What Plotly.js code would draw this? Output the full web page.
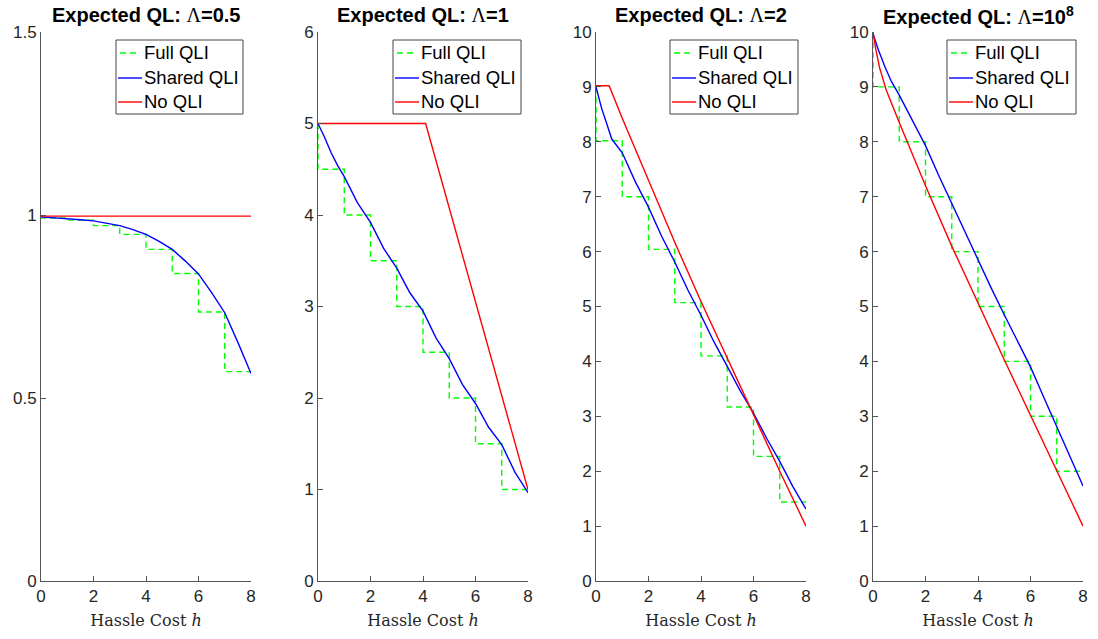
<!DOCTYPE html>
<html>
<head>
<meta charset="utf-8">
<script src="https://cdn.plot.ly/plotly-3.0.1.min.js"></script>
<style>html,body{margin:0;padding:0;background:#fff;}#chart{width:1098px;height:639px;}</style>
</head>
<body>
<div id="chart"></div>
<script>
// ---- Data ----
const panelTitles = ['Expected QL: <span style="font-family:\'Liberation Serif\';font-weight:normal">Λ</span>=0.5',
                     'Expected QL: <span style="font-family:\'Liberation Serif\';font-weight:normal">Λ</span>=1',
                     'Expected QL: <span style="font-family:\'Liberation Serif\';font-weight:normal">Λ</span>=2',
                     'Expected QL: <span style="font-family:\'Liberation Serif\';font-weight:normal">Λ</span>=10<sup>8</sup>'];
const seriesNames = ['Full QLI', 'Shared QLI', 'No QLI'];
const xTickVals = [0, 2, 4, 6, 8];
const yTicks1 = [0, 0.5, 1, 1.5];
const yTicks2 = [0, 1, 2, 3, 4, 5, 6];
const yTicks3 = [0, 1, 2, 3, 4, 5, 6, 7, 8, 9, 10];
const yTicks4 = [0, 1, 2, 3, 4, 5, 6, 7, 8, 9, 10];

// Full QLI: step function; value at h=0, then level on each interval [k, k+1]
const fullH = [0, 1, 2, 3, 4, 5, 6, 7, 8];
const full1 = [0.995, 0.992, 0.986, 0.971, 0.947, 0.906, 0.840, 0.735, 0.572];
const full2 = [5.0, 4.5, 4.0, 3.5, 3.0, 2.5, 2.0, 1.5, 1.0];
const full3 = [9.0, 8.02, 7.0, 6.04, 5.07, 4.1, 3.17, 2.27, 1.44];
const full4 = [10.0, 9.0, 8.0, 7.0, 6.0, 5.0, 4.0, 3.0, 2.0];

// Shared QLI
const sharedH1 = [0, 0.5, 1, 1.5, 2, 2.5, 3, 3.5, 4, 4.5, 5, 5.5, 6, 6.5, 7, 7.5, 8];
const shared1  = [0.995, 0.993, 0.990, 0.987, 0.984, 0.978, 0.971, 0.960, 0.947, 0.928, 0.906, 0.874, 0.839, 0.788, 0.733, 0.652, 0.567];
const sharedH2 = [0, 0.25, 0.5, 0.75, 1, 1.5, 2, 2.5, 3, 3.5, 4, 4.5, 5, 5.5, 6, 6.5, 7, 7.5, 8];
const shared2  = [5.0, 4.85, 4.68, 4.54, 4.42, 4.135, 3.92, 3.635, 3.42, 3.15, 2.95, 2.655, 2.43, 2.15, 1.94, 1.68, 1.49, 1.19, 0.965];
const sharedH3 = [0, 0.1, 0.22, 0.36, 0.6, 1, 1.5, 2, 2.5, 3, 3.5, 4, 4.5, 5, 5.5, 6, 6.5, 7, 7.5, 8];
const shared3  = [9.0, 8.8, 8.6, 8.4, 8.05, 7.8, 7.27, 6.81, 6.28, 5.81, 5.3, 4.84, 4.35, 3.91, 3.46, 3.06, 2.6, 2.18, 1.72, 1.31];
const sharedH4 = [0, 0.2, 0.45, 0.7, 1, 1.5, 2, 2.5, 3, 3.5, 4, 4.5, 5, 5.5, 6, 6.5, 7, 7.5, 8];
const shared4  = [9.97, 9.68, 9.37, 9.1, 8.85, 8.38, 7.93, 7.39, 6.87, 6.35, 5.86, 5.34, 4.85, 4.36, 3.9, 3.35, 2.82, 2.26, 1.73];

// No QLI
const noH1 = [0, 8];
const no1  = [0.997, 0.997];
const noH2 = [0, 4.1, 8];
const no2  = [5.0, 5.0, 1.0];
const noH3 = [0, 0.5, 1, 2, 3, 4, 5, 6, 7, 8];
const no3  = [9.02, 9.02, 8.43, 7.29, 6.17, 5.09, 4.05, 3.03, 2.0, 1.0];
const noH4 = [0, 0.1, 0.25, 0.5, 1, 2, 3, 4, 5, 6, 7, 8];
const no4  = [10.0, 9.7, 9.35, 8.95, 8.35, 7.2, 6.1, 5.05, 4.03, 3.02, 2.0, 1.0];

// ---- Styles ----
const W = 1098, H = 639;
const green = '#00ff00', blue = '#0000ff', red = '#ff0000';
const seriesColors = [green, blue, red];
const seriesDash = ['6px,4px', 'solid', 'solid'];
const legendSample = [[4, 20], [2, 26], [2, 26]];
const axisColor = '#555555', tickColor = '#262626';
const sans = 'Liberation Sans, Arial, sans-serif';
const serif = 'DejaVu Serif, Liberation Serif, serif';

const xPix = [[41, 251], [318, 528], [596, 806], [873, 1083]];
const yDom = [(H - 581) / H, (H - 32) / H];
const legendBox = [[116, 243], [393, 521], [670, 798], [947, 1076]];
const legendTop = 40, legendBottom = 114;
const legendRows = [53, 78, 102];

const panels = [
  {full: full1, sh: shared1, shH: sharedH1, no: no1, noH: noH1, yr: [0, 1.5], yt: yTicks1},
  {full: full2, sh: shared2, shH: sharedH2, no: no2, noH: noH2, yr: [0, 6], yt: yTicks2},
  {full: full3, sh: shared3, shH: sharedH3, no: no3, noH: noH3, yr: [0, 10], yt: yTicks3},
  {full: full4, sh: shared4, shH: sharedH4, no: no4, noH: noH4, yr: [0, 10], yt: yTicks4}
];

const px = v => v / W;
const py = v => (H - v) / H;

const traces = [];
const layout = {
  width: W, height: H, autosize: false,
  margin: {l: 0, r: 0, t: 0, b: 0, pad: 0},
  paper_bgcolor: '#ffffff', plot_bgcolor: '#ffffff',
  font: {family: sans, size: 17, color: tickColor},
  annotations: [], shapes: [],
  showlegend: false
};

panels.forEach((p, i) => {
  const n = i === 0 ? '' : String(i + 1);
  const xa = 'x' + n, ya = 'y' + n;
  traces.push({x: fullH, y: p.full, xaxis: xa, yaxis: ya, name: seriesNames[0],
    mode: 'lines', line: {color: green, width: 1.4, dash: seriesDash[0], shape: 'vh'}, hoverinfo: 'skip'});
  traces.push({x: p.shH, y: p.sh, xaxis: xa, yaxis: ya, name: seriesNames[1],
    mode: 'lines', line: {color: blue, width: 1.4}, hoverinfo: 'skip'});
  traces.push({x: p.noH, y: p.no, xaxis: xa, yaxis: ya, name: seriesNames[2],
    mode: 'lines', line: {color: red, width: 1.4}, hoverinfo: 'skip'});

  layout['xaxis' + n] = {
    domain: [px(xPix[i][0]), px(xPix[i][1])], anchor: ya, range: [0, 8],
    tickvals: xTickVals, ticks: 'inside', ticklen: 5, tickcolor: axisColor, tickwidth: 1,
    showline: true, linecolor: axisColor, linewidth: 1, showgrid: false, zeroline: false,
    tickfont: {family: sans, size: 17, color: tickColor},
    title: {text: 'Hassle Cost <i>h</i>', font: {family: serif, size: 16, color: tickColor}, standoff: 9},
    fixedrange: true
  };
  layout['yaxis' + n] = {
    domain: yDom, anchor: xa, range: p.yr,
    tickvals: p.yt, ticks: 'inside', ticklen: 5, tickcolor: axisColor, tickwidth: 1,
    showline: true, linecolor: axisColor, linewidth: 1, showgrid: false, zeroline: false,
    tickfont: {family: sans, size: 17, color: tickColor}, fixedrange: true
  };

  // title
  layout.annotations.push({
    text: '<b>' + panelTitles[i] + '</b>', xref: 'paper', yref: 'paper',
    x: px((xPix[i][0] + xPix[i][1]) / 2), y: py(15), xanchor: 'center', yanchor: 'middle',
    showarrow: false, font: {family: sans, size: 20, color: '#000000'}
  });

  // legend box (MATLAB style)
  const [bl, br] = legendBox[i];
  layout.shapes.push({type: 'rect', xref: 'paper', yref: 'paper', layer: 'above',
    x0: px(bl), x1: px(br), y0: py(legendBottom), y1: py(legendTop),
    line: {color: '#444444', width: 1}, fillcolor: '#ffffff'});
  seriesNames.forEach((name, k) => {
    layout.shapes.push({type: 'line', xref: 'paper', yref: 'paper', layer: 'above',
      x0: px(bl + legendSample[k][0]), x1: px(bl + legendSample[k][1]), y0: py(legendRows[k]), y1: py(legendRows[k]),
      line: {color: seriesColors[k], width: 1.4, dash: seriesDash[k]}});
    layout.annotations.push({text: name, xref: 'paper', yref: 'paper',
      x: px(bl + 26), y: py(legendRows[k]), xanchor: 'left', yanchor: 'middle',
      showarrow: false, font: {family: sans, size: 18.5, color: '#000000'}});
  });
});

Plotly.newPlot('chart', traces, layout, {displayModeBar: false, staticPlot: true});
</script>
</body>
</html>
